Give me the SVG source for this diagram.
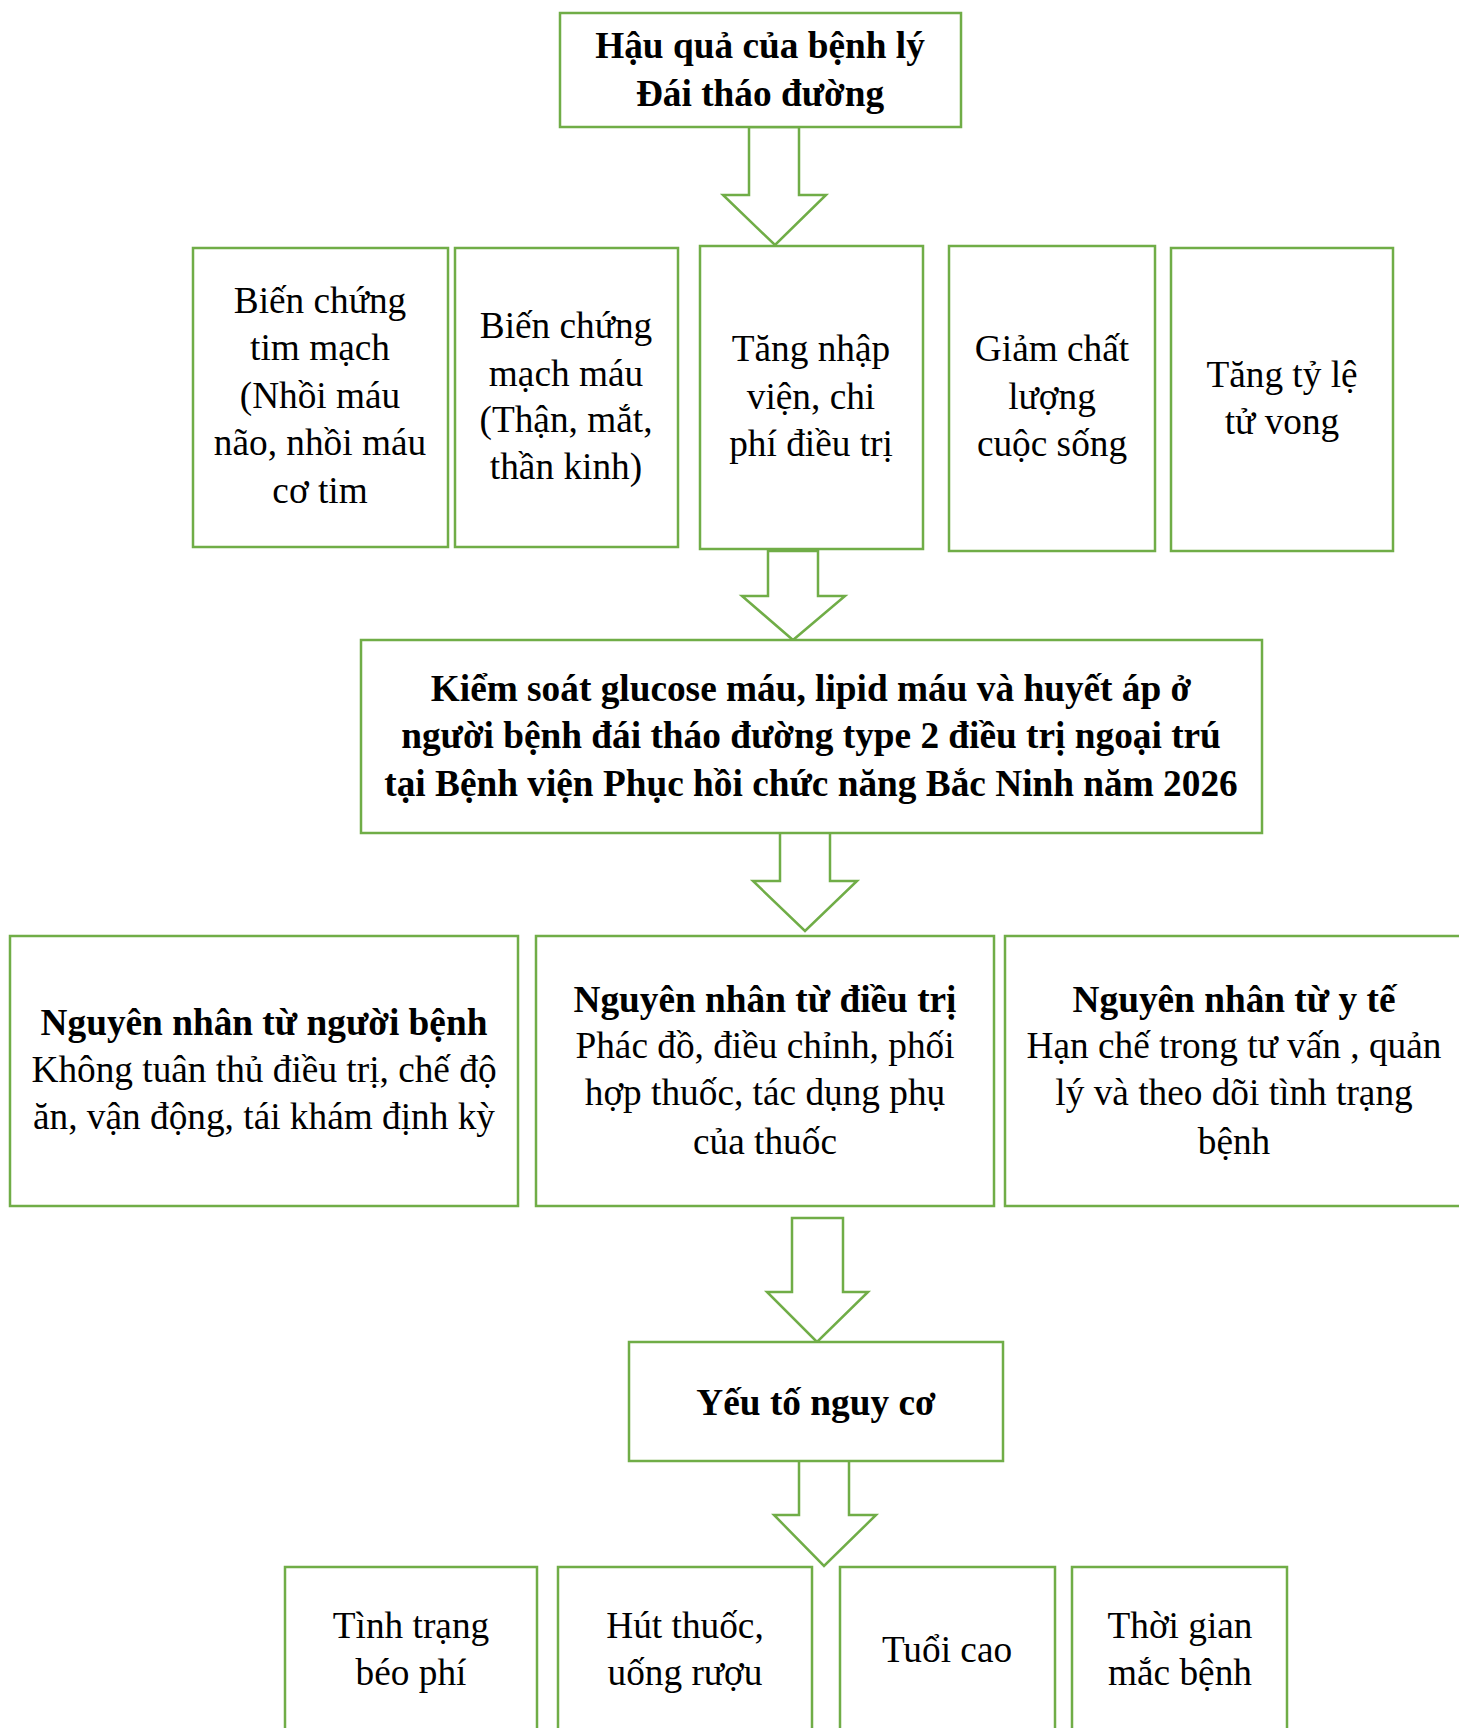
<svg xmlns="http://www.w3.org/2000/svg" width="1459" height="1728" viewBox="0 0 1459 1728">
<style>
.box{fill:#fff;stroke:#70AD47;stroke-width:2.5}
.arr{fill:#fff;stroke:#70AD47;stroke-width:2.5;stroke-linejoin:miter}
text{font-family:"Liberation Serif","Times New Roman",serif;font-size:37.3px;fill:#000;text-anchor:middle}
.b{font-weight:bold}
</style>
<rect width="1459" height="1728" fill="#fff"/>
<g id="connectors">
<polygon class="arr" points="749,127 799,127 799,195 826,195 775,245 723,195 749,195"/>
<polygon class="arr" points="768,551 818,551 818,596 845,596 793,640 742,596 768,596"/>
<polygon class="arr" points="780,832 830,832 830,881 857,881 805,931 753,881 780,881"/>
<polygon class="arr" points="792,1218 843,1218 843,1292 868,1292 817,1342 767,1292 792,1292"/>
<polygon class="arr" points="799,1458 849,1458 849,1515 876,1515 824,1566 774,1515 799,1515"/>
</g>
<g id="n-top"><rect class="box" x="560" y="13" width="401" height="114"/>
<text class="b" x="760" y="58">Hậu quả của bệnh lý</text>
<text class="b" x="760" y="106">Đái tháo đường</text></g>
<g id="n-c1"><rect class="box" x="193" y="248" width="255" height="299"/>
<text x="320" y="313">Biến chứng</text><text x="320" y="360">tim mạch</text><text x="320" y="408">(Nhồi máu</text><text x="320" y="455">não, nhồi máu</text><text x="320" y="503">cơ tim</text></g>
<g id="n-c2"><rect class="box" x="455" y="248" width="223" height="299"/>
<text x="566" y="338">Biến chứng</text><text x="566" y="386">mạch máu</text><text x="566" y="432">(Thận, mắt,</text><text x="566" y="479">thần kinh)</text></g>
<g id="n-c3"><rect class="box" x="700" y="246" width="223" height="303"/>
<text x="811" y="361">Tăng nhập</text><text x="811" y="409">viện, chi</text><text x="811" y="456">phí điều trị</text></g>
<g id="n-c4"><rect class="box" x="949" y="246" width="206" height="305"/>
<text x="1052" y="361">Giảm chất</text><text x="1052" y="409">lượng</text><text x="1052" y="456">cuộc sống</text></g>
<g id="n-c5"><rect class="box" x="1171" y="248" width="222" height="303"/>
<text x="1282" y="387">Tăng tỷ lệ</text><text x="1282" y="434">tử vong</text></g>
<g id="n-main"><rect class="box" x="361" y="640" width="901" height="193"/>
<text class="b" x="811" y="701">Kiểm soát glucose máu, lipid máu và huyết áp ở</text>
<text class="b" x="811" y="748">người bệnh đái tháo đường type 2 điều trị ngoại trú</text>
<text class="b" x="811" y="796">tại Bệnh viện Phục hồi chức năng Bắc Ninh năm 2026</text></g>
<g id="n-r1"><rect class="box" x="10" y="936" width="508" height="270"/>
<text class="b" x="264" y="1035">Nguyên nhân từ người bệnh</text>
<text x="264" y="1082">Không tuân thủ điều trị, chế độ</text>
<text x="264" y="1129">ăn, vận động, tái khám định kỳ</text></g>
<g id="n-r2"><rect class="box" x="536" y="936" width="458" height="270"/>
<text class="b" x="765" y="1012">Nguyên nhân từ điều trị</text>
<text x="765" y="1058">Phác đồ, điều chỉnh, phối</text>
<text x="765" y="1105">hợp thuốc, tác dụng phụ</text>
<text x="765" y="1154">của thuốc</text></g>
<g id="n-r3"><rect class="box" x="1005" y="936" width="460" height="270"/>
<text class="b" x="1234" y="1012">Nguyên nhân từ y tế</text>
<text x="1234" y="1058">Hạn chế trong tư vấn , quản</text>
<text x="1234" y="1105">lý và theo dõi tình trạng</text>
<text x="1234" y="1154">bệnh</text></g>
<g id="n-risk"><rect class="box" x="629" y="1342" width="374" height="119"/>
<text class="b" x="816" y="1415">Yếu tố nguy cơ</text></g>
<g id="n-b1"><rect class="box" x="285" y="1567" width="252" height="180"/>
<text x="411" y="1638">Tình trạng</text><text x="411" y="1685">béo phí</text></g>
<g id="n-b2"><rect class="box" x="558" y="1567" width="254" height="180"/>
<text x="685" y="1638">Hút thuốc,</text><text x="685" y="1685">uống rượu</text></g>
<g id="n-b3"><rect class="box" x="840" y="1567" width="215" height="180"/>
<text x="947" y="1662">Tuổi cao</text></g>
<g id="n-b4"><rect class="box" x="1072" y="1567" width="215" height="180"/>
<text x="1180" y="1638">Thời gian</text><text x="1180" y="1685">mắc bệnh</text></g>
</svg>
